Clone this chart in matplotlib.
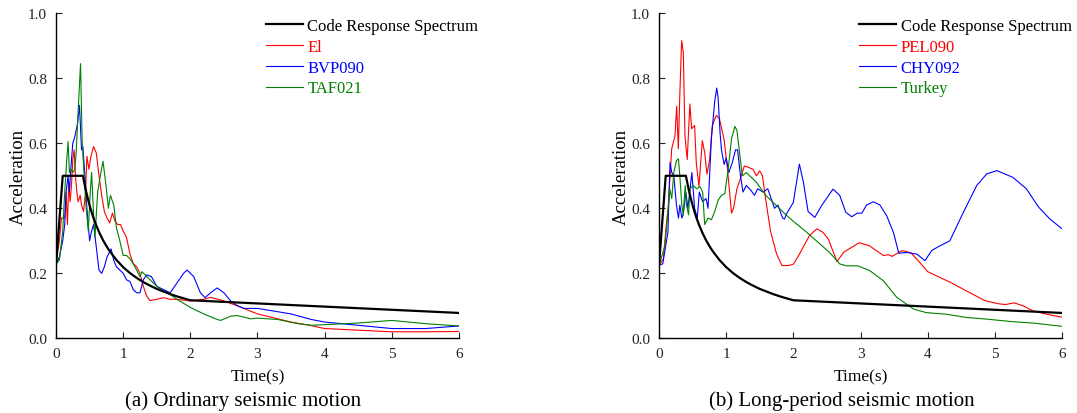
import matplotlib
matplotlib.use("Agg")
import matplotlib.pyplot as plt

plt.rcParams['font.family'] = ['Liberation Serif', 'DejaVu Serif']

# Code response spectrum (shared by both panels)
code_t = [0, 0.1, 0.4, 0.45, 0.5, 0.55, 0.6, 0.65, 0.7, 0.75, 0.8, 0.9, 1.0, 1.1,
          1.2, 1.3, 1.4, 1.5, 1.6, 1.7, 1.8, 1.9, 2.0, 6.0]
code_a = [0.225, 0.5, 0.5, 0.450, 0.409, 0.375, 0.347, 0.323, 0.302, 0.284, 0.268,
          0.241, 0.219, 0.201, 0.186, 0.173, 0.162, 0.152, 0.144, 0.136, 0.129,
          0.123, 0.117, 0.078]

# (a) ordinary seismic motion
el_t = [0, 0.05, 0.08, 0.13, 0.15, 0.17, 0.19, 0.21, 0.23, 0.25, 0.27, 0.29, 0.31,
        0.33, 0.36, 0.38, 0.41, 0.44, 0.46, 0.49, 0.52, 0.56, 0.60, 0.64, 0.68, 0.72,
        0.76, 0.80, 0.84, 0.88, 0.92, 0.96, 1.0, 1.05, 1.10, 1.15, 1.20, 1.25, 1.30,
        1.35, 1.40, 1.50, 1.60, 1.70, 1.80, 2.0, 2.2, 2.3, 2.5, 2.7, 3.0, 3.5, 3.8,
        4.0, 4.5, 5.0, 5.5, 6.0]
el_a = [0.23, 0.30, 0.37, 0.37, 0.45, 0.35, 0.48, 0.42, 0.47, 0.55, 0.58, 0.50, 0.45,
        0.42, 0.44, 0.41, 0.39, 0.45, 0.56, 0.52, 0.56, 0.59, 0.57, 0.50, 0.44, 0.39,
        0.37, 0.355, 0.385, 0.36, 0.35, 0.35, 0.33, 0.31, 0.26, 0.23, 0.22, 0.20, 0.16,
        0.13, 0.116, 0.12, 0.125, 0.12, 0.12, 0.115, 0.12, 0.126, 0.115, 0.10, 0.075,
        0.05, 0.039, 0.03, 0.025, 0.02, 0.02, 0.021]

bvp_t = [0, 0.05, 0.10, 0.13, 0.15, 0.18, 0.20, 0.22, 0.25, 0.28, 0.32, 0.35, 0.38,
         0.40, 0.43, 0.46, 0.50, 0.53, 0.56, 0.60, 0.64, 0.68, 0.72, 0.76, 0.82, 0.86,
         0.90, 0.95, 1.0, 1.05, 1.10, 1.15, 1.20, 1.25, 1.30, 1.35, 1.42, 1.50, 1.60,
         1.70, 1.80, 1.90, 1.95, 2.05, 2.15, 2.22, 2.30, 2.40, 2.50, 2.60, 2.70, 2.80,
         3.0, 3.5, 3.8, 4.0, 4.5, 5.0, 5.5, 6.0]
bvp_a = [0.23, 0.25, 0.30, 0.35, 0.45, 0.50, 0.45, 0.52, 0.60, 0.62, 0.66, 0.717, 0.58,
         0.59, 0.50, 0.40, 0.30, 0.33, 0.35, 0.28, 0.21, 0.20, 0.22, 0.25, 0.275, 0.24,
         0.22, 0.21, 0.20, 0.18, 0.175, 0.15, 0.14, 0.14, 0.18, 0.195, 0.19, 0.16, 0.15,
         0.14, 0.17, 0.20, 0.21, 0.19, 0.14, 0.125, 0.14, 0.155, 0.14, 0.115, 0.10,
         0.092, 0.092, 0.075, 0.058, 0.05, 0.04, 0.03, 0.03, 0.038]

taf_t = [0, 0.05, 0.10, 0.13, 0.16, 0.18, 0.20, 0.22, 0.25, 0.28, 0.30, 0.33, 0.365,
         0.39, 0.42, 0.45, 0.48, 0.51, 0.53, 0.56, 0.58, 0.62, 0.66, 0.70, 0.75, 0.78,
         0.81, 0.86, 0.90, 0.95, 1.0, 1.05, 1.10, 1.15, 1.20, 1.25, 1.28, 1.40, 1.50,
         1.60, 1.70, 1.80, 2.0, 2.2, 2.4, 2.45, 2.6, 2.7, 2.9, 3.0, 3.3, 3.6, 3.8, 4.0,
         4.5, 5.0, 5.5, 6.0]
taf_a = [0.23, 0.24, 0.33, 0.45, 0.55, 0.605, 0.51, 0.52, 0.51, 0.52, 0.57, 0.70, 0.845,
         0.60, 0.50, 0.40, 0.33, 0.45, 0.51, 0.38, 0.31, 0.45, 0.50, 0.545, 0.46, 0.40,
         0.44, 0.41, 0.34, 0.30, 0.255, 0.255, 0.245, 0.23, 0.21, 0.19, 0.205, 0.18,
         0.16, 0.145, 0.135, 0.12, 0.095, 0.075, 0.058, 0.055, 0.068, 0.07, 0.06, 0.062,
         0.058, 0.045, 0.04, 0.042, 0.047, 0.055, 0.045, 0.038]

# (b) long-period seismic motion
pel_t = [0, 0.064, 0.10, 0.138, 0.189, 0.238, 0.263, 0.288, 0.31, 0.337, 0.362, 0.386,
         0.42, 0.46, 0.486, 0.53, 0.555, 0.595, 0.645, 0.68, 0.714, 0.754, 0.794, 0.853,
         0.90, 0.97, 1.02, 1.08, 1.11, 1.16, 1.21, 1.27, 1.32, 1.40, 1.45, 1.50, 1.54,
         1.59, 1.66, 1.75, 1.83, 1.93, 2.0, 2.08, 2.24, 2.35, 2.44, 2.52, 2.65, 2.75,
         2.98, 3.13, 3.34, 3.42, 3.47, 3.62, 3.75, 3.88, 4.0, 4.34, 4.85, 5.06, 5.16,
         5.29, 5.42, 5.57, 5.82, 6.0]
pel_a = [0.225, 0.244, 0.33, 0.408, 0.583, 0.623, 0.714, 0.583, 0.75, 0.916, 0.88, 0.623,
         0.55, 0.721, 0.645, 0.655, 0.54, 0.468, 0.608, 0.572, 0.505, 0.55, 0.655, 0.686,
         0.676, 0.61, 0.52, 0.385, 0.40, 0.46, 0.49, 0.53, 0.527, 0.52, 0.50, 0.515, 0.50,
         0.425, 0.33, 0.26, 0.224, 0.224, 0.228, 0.255, 0.316, 0.337, 0.326, 0.306,
         0.236, 0.265, 0.294, 0.285, 0.255, 0.257, 0.252, 0.27, 0.263, 0.234, 0.205,
         0.172, 0.116, 0.106, 0.104, 0.109, 0.10, 0.084, 0.072, 0.065]

chy_t = [0, 0.056, 0.133, 0.164, 0.19, 0.22, 0.26, 0.29, 0.31, 0.34, 0.36, 0.40, 0.43,
         0.49, 0.53, 0.57, 0.60, 0.65, 0.70, 0.73, 0.78, 0.83, 0.86, 0.88, 0.91, 0.93,
         0.97, 1.0, 1.04, 1.09, 1.14, 1.17, 1.21, 1.25, 1.30, 1.37, 1.42, 1.47, 1.55,
         1.62, 1.72, 1.77, 1.84, 1.87, 1.89, 2.0, 2.09, 2.15, 2.22, 2.32, 2.42, 2.59,
         2.69, 2.78, 2.87, 2.95, 3.02, 3.09, 3.19, 3.29, 3.39, 3.49, 3.57, 3.69, 3.84,
         3.96, 4.06, 4.16, 4.33, 4.53, 4.73, 4.88, 5.03, 5.27, 5.47, 5.65, 5.82, 6.0]
chy_a = [0.225, 0.229, 0.326, 0.541, 0.51, 0.50, 0.41, 0.37, 0.41, 0.37, 0.38, 0.45,
         0.40, 0.51, 0.40, 0.37, 0.45, 0.42, 0.43, 0.40, 0.615, 0.73, 0.77, 0.74, 0.63,
         0.58, 0.535, 0.555, 0.51, 0.54, 0.58, 0.58, 0.505, 0.45, 0.47, 0.455, 0.44,
         0.46, 0.45, 0.46, 0.40, 0.41, 0.37, 0.367, 0.38, 0.418, 0.536, 0.48, 0.39,
         0.372, 0.408, 0.459, 0.44, 0.388, 0.374, 0.385, 0.385, 0.41, 0.42, 0.41, 0.377,
         0.326, 0.262, 0.264, 0.259, 0.239, 0.27, 0.282, 0.30, 0.387, 0.47, 0.506, 0.516,
         0.495, 0.46, 0.404, 0.367, 0.337]

tur_t = [0, 0.089, 0.138, 0.16, 0.19, 0.22, 0.26, 0.29, 0.31, 0.34, 0.36, 0.39, 0.41,
         0.44, 0.46, 0.51, 0.56, 0.61, 0.65, 0.68, 0.73, 0.78, 0.83, 0.88, 0.93, 0.98,
         1.03, 1.08, 1.13, 1.16, 1.20, 1.24, 1.30, 1.35, 1.45, 1.59, 1.74, 1.89, 2.0,
         2.2, 2.37, 2.54, 2.69, 2.79, 2.96, 3.14, 3.34, 3.54, 3.79, 3.98, 4.28, 4.58,
         4.88, 5.27, 5.57, 5.82, 6.0]
tur_a = [0.225, 0.285, 0.40, 0.46, 0.43, 0.51, 0.547, 0.552, 0.50, 0.41, 0.38, 0.47,
         0.41, 0.38, 0.46, 0.47, 0.46, 0.467, 0.45, 0.35, 0.37, 0.365, 0.39, 0.425, 0.44,
         0.445, 0.52, 0.615, 0.652, 0.64, 0.57, 0.50, 0.51, 0.50, 0.48, 0.44, 0.41, 0.38,
         0.36, 0.326, 0.295, 0.264, 0.229, 0.223, 0.223, 0.208, 0.177, 0.126, 0.090,
         0.079, 0.074, 0.064, 0.059, 0.051, 0.047, 0.041, 0.037]

x_ticks = [0, 1, 2, 3, 4, 5, 6]
y_ticks = [0.0, 0.2, 0.4, 0.6, 0.8, 1.0]

panels = [
    ("(a) Ordinary seismic motion",
     [("El", el_t, el_a, "#ff0000"),
      ("BVP090", bvp_t, bvp_a, "#0000ff"),
      ("TAF021", taf_t, taf_a, "#008000")]),
    ("(b) Long-period seismic motion",
     [("PEL090", pel_t, pel_a, "#ff0000"),
      ("CHY092", chy_t, chy_a, "#0000ff"),
      ("Turkey", tur_t, tur_a, "#008000")]),
]

W, H = 1077, 414
fig = plt.figure(figsize=(W / 100, H / 100), dpi=100)

ax_left_px = [56, 659]
legend_x = [0.520, 0.496]
caption_x = [243, 842]

for i, (caption, series) in enumerate(panels):
    ax = fig.add_axes([ax_left_px[i] / W, 1 - 339.3 / H, 403 / W, 325 / H])
    ax.plot(code_t, code_a, color="black", lw=1.6, label="Code Response Spectrum", zorder=4)
    for name, t, a, c in series:
        ax.plot(t, a, color=c, lw=0.8, label=name)

    ax.set_xlim(0, 6)
    ax.set_ylim(0, 1.0)
    ax.set_xticks(x_ticks)
    ax.set_yticks(y_ticks)
    ax.set_xticklabels([str(v) for v in x_ticks])
    ax.set_yticklabels([f"{v:.1f}" for v in y_ticks])
    for side in ("top", "right"):
        ax.spines[side].set_visible(False)
    for side in ("left", "bottom"):
        ax.spines[side].set_linewidth(1.0)
    ax.tick_params(direction="in", length=4.3, width=0.8, pad=6.5, labelsize=11,
                   colors="#222222")

    ax.set_xlabel("Time(s)", fontsize=12.5)
    ax.xaxis.set_label_coords(0.5, -0.094)
    ax.set_ylabel("Acceleration", fontsize=13.5)
    ax.yaxis.set_label_coords(-0.072, 0.5)

    ax.legend(loc="upper left", bbox_to_anchor=(legend_x[i], 0.986), frameon=False,
              fontsize=12, handlelength=2.25, handletextpad=0.26, labelspacing=0.29,
              borderpad=0, borderaxespad=0, labelcolor="linecolor")

    fig.text(caption_x[i] / W, 1 - 401 / H, caption, fontsize=15, ha="center", va="center")

fig.savefig("out.png", dpi=100)
